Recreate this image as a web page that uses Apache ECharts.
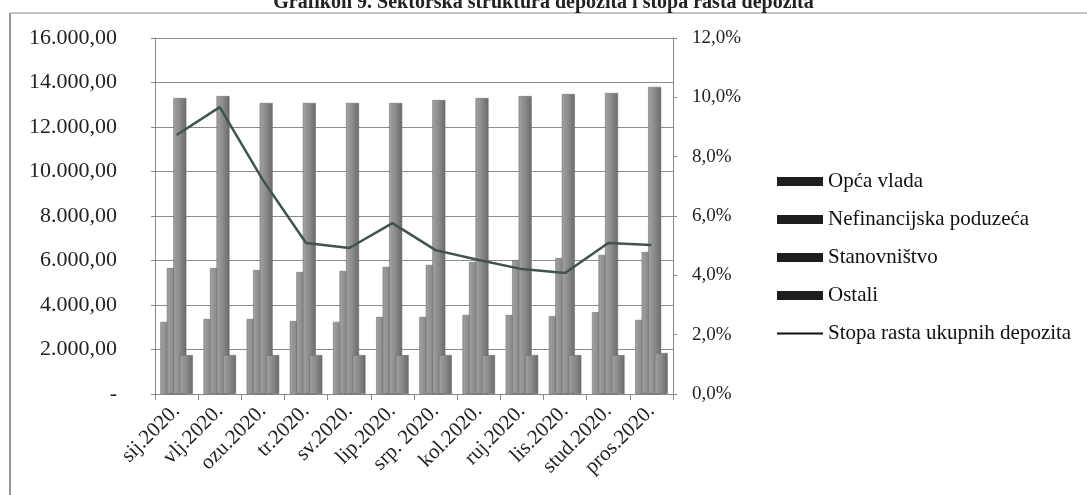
<!DOCTYPE html>
<html>
<head>
<meta charset="utf-8">
<script src="https://cdn.jsdelivr.net/npm/echarts@6/dist/echarts.min.js"></script>
<style>
html,body{margin:0;padding:0;background:#fff;}
#c{width:1087px;height:495px;}
</style>
</head>
<body>
<div id="c"></div>
<script>
var categories = ['sij.2020.','vlj.2020.','ozu.2020.','tr.2020.','sv.2020.','lip.2020.','srp. 2020.','kol.2020.','ruj.2020.','lis.2020.','stud.2020.','pros.2020.'];
var opcaVlada = [3240, 3370, 3370, 3280, 3240, 3460, 3460, 3550, 3550, 3500, 3680, 3330];
var nefinancijska = [5660, 5660, 5570, 5480, 5530, 5710, 5800, 5930, 6020, 6110, 6250, 6380];
var stanovnistvo = [13300, 13390, 13080, 13080, 13080, 13080, 13210, 13300, 13390, 13480, 13530, 13800];
var ostali = [1750, 1750, 1750, 1750, 1750, 1750, 1750, 1750, 1750, 1750, 1750, 1840];
var stopaRasta = [8.73, 9.67, 7.21, 5.09, 4.92, 5.76, 4.85, 4.52, 4.21, 4.08, 5.09, 5.02];
var leftTicks = [0, 2000, 4000, 6000, 8000, 10000, 12000, 14000, 16000];
var rightTicks = [0, 2, 4, 6, 8, 10, 12];

var serif = '"Liberation Serif","DejaVu Serif",serif';
var barFill = {
  type: 'linear', x: 0, y: 0, x2: 1, y2: 0,
  colorStops: [{offset: 0, color: '#a2a2a2'}, {offset: 0.5, color: '#8a8a8a'}, {offset: 1, color: '#6a6a6a'}]
};
function fmtLeft(v) {
  if (v === 0) return '-';
  var s = String(Math.round(v));
  s = s.replace(/\B(?=(\d{3})+(?!\d))/g, '.');
  return s + ',00';
}
function fmtRight(v) { return v.toFixed(1).replace('.', ',') + '%'; }

function barSeries(name, data) {
  return {
    name: name, type: 'bar', data: data, yAxisIndex: 0,
    barWidth: 13, barGap: '-50%',
    itemStyle: {color: barFill, borderColor: '#666', borderWidth: 0.5}
  };
}

var chart = echarts.init(document.getElementById('c'), null, {renderer: 'canvas'});
chart.setOption({
  animation: false,
  backgroundColor: '#ffffff',
  title: {
    text: 'Grafikon 9. Sektorska struktura depozita i stopa rasta depozita',
    left: 'center', top: -12,
    textStyle: {fontFamily: serif, fontWeight: 'bold', fontSize: 20, color: '#222'}
  },
  graphic: [
    {type: 'line', shape: {x1: 10, y1: 13, x2: 1087, y2: 13}, style: {stroke: '#b0b0b0', lineWidth: 1.5}},
    {type: 'line', shape: {x1: 10, y1: 13, x2: 10, y2: 495}, style: {stroke: '#999', lineWidth: 2}}
  ],
  grid: {left: 155, right: 414, top: 38, bottom: 101},
  legend: {
    orient: 'vertical', left: 772, top: 166,
    itemWidth: 46, itemHeight: 9, itemGap: 17,
    textStyle: {fontFamily: serif, fontSize: 21, color: '#111'},
    data: [
      {name: 'Opća vlada', icon: 'rect', itemStyle: {color: '#1e1e1e', borderWidth: 0}},
      {name: 'Nefinancijska poduzeća', icon: 'rect', itemStyle: {color: '#1e1e1e', borderWidth: 0}},
      {name: 'Stanovništvo', icon: 'rect', itemStyle: {color: '#1e1e1e', borderWidth: 0}},
      {name: 'Ostali', icon: 'rect', itemStyle: {color: '#1e1e1e', borderWidth: 0}},
      {name: 'Stopa rasta ukupnih depozita', icon: 'path://M0,0L46,0L46,2L0,2Z', itemStyle: {color: '#111', borderWidth: 0}}
    ]
  },
  xAxis: {
    type: 'category', data: categories,
    axisLine: {lineStyle: {color: '#888', width: 1}},
    axisTick: {show: true, length: 6, lineStyle: {color: '#888'}},
    axisLabel: {rotate: 45, margin: 14, fontFamily: serif, fontSize: 21, color: '#222', interval: 0}
  },
  yAxis: [
    {
      type: 'value', min: 0, max: 16000, interval: 2000, position: 'left',
      axisLine: {show: true, lineStyle: {color: '#888'}},
      axisTick: {show: true, length: 4, lineStyle: {color: '#888'}},
      splitLine: {show: true, lineStyle: {color: '#8c8c8c', width: 1}},
      axisLabel: {margin: 38, fontFamily: serif, fontSize: 22, color: '#222', formatter: fmtLeft,
        customValues: leftTicks}
    },
    {
      type: 'value', min: 0, max: 12, interval: 2, position: 'right',
      axisLine: {show: true, lineStyle: {color: '#888'}},
      axisTick: {show: true, length: 4, lineStyle: {color: '#888'}},
      splitLine: {show: false},
      axisLabel: {margin: 19, fontFamily: serif, fontSize: 19, color: '#222', formatter: fmtRight,
        customValues: rightTicks}
    }
  ],
  series: [
    barSeries('Opća vlada', opcaVlada),
    barSeries('Nefinancijska poduzeća', nefinancijska),
    barSeries('Stanovništvo', stanovnistvo),
    barSeries('Ostali', ostali),
    {
      name: 'Stopa rasta ukupnih depozita', type: 'line', yAxisIndex: 1, data: stopaRasta,
      symbol: 'none', showSymbol: false,
      lineStyle: {color: '#3f544e', width: 2.5},
      itemStyle: {color: '#111'}, z: 5
    }
  ]
});
</script>
</body>
</html>
